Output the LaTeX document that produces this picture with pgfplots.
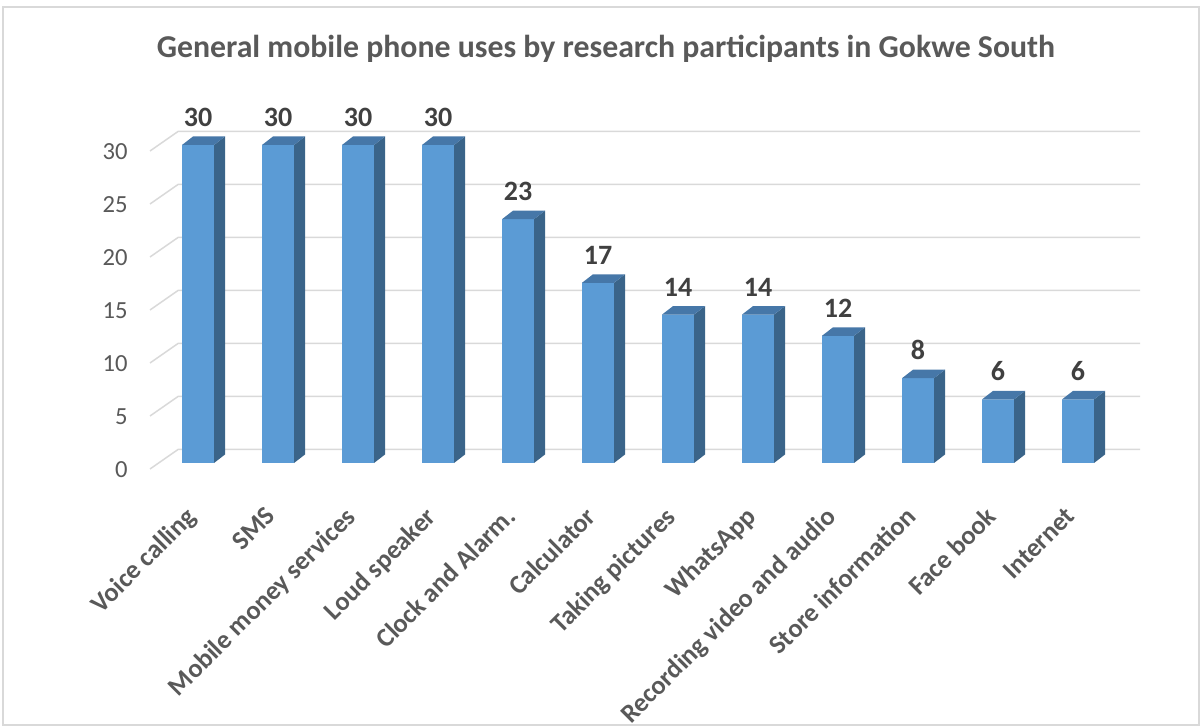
\documentclass[border=0pt]{standalone}
\usepackage{fontspec}
\setmainfont{Carlito}
\usepackage{pgfplots}
\pgfplotsset{compat=1.18}
\definecolor{barfront}{HTML}{5B9BD5}
\definecolor{bartop}{HTML}{4677A8}
\definecolor{barside}{HTML}{3A6489}
\definecolor{txt}{HTML}{595959}
\definecolor{lbl}{HTML}{404040}
\definecolor{grd}{HTML}{D9D9D9}
\definecolor{frame}{HTML}{D9D9D9}

\pgfdeclareplotmark{bar3d}{%
  \pgfmathsetmacro\barH{\rawy*5.3}%
  \pgfpathmoveto{\pgfpoint{8pt}{0pt}}%
  \pgfpathlineto{\pgfpoint{13.5pt}{4.25pt}}%
  \pgfpathlineto{\pgfpoint{13.5pt}{4.25pt-\barH pt}}%
  \pgfpathlineto{\pgfpoint{8pt}{-\barH pt}}%
  \pgfpathclose
  \pgfsetfillcolor{barside}%
  \pgfusepathqfill
  \pgfpathmoveto{\pgfpoint{-8pt}{0pt}}%
  \pgfpathlineto{\pgfpoint{8pt}{0pt}}%
  \pgfpathlineto{\pgfpoint{13.5pt}{4.25pt}}%
  \pgfpathlineto{\pgfpoint{-2.5pt}{4.25pt}}%
  \pgfpathclose
  \pgfsetfillcolor{bartop}%
  \pgfusepathqfill
}

\pgfplotstableread{
x y
0 30
1 30
2 30
3 30
4 23
5 17
6 14
7 14
8 12
9 8
10 6
11 6
}\usesdata

\begin{document}
\begin{tikzpicture}
\path[use as bounding box] (0,0) rectangle (601pt,363.5pt);
\draw[frame, line width=1pt] (1.5pt,1pt) rectangle (599.5pt,360pt);
\node[font=\bfseries\fontsize{15.9}{19}\selectfont, text=txt] at (303pt,339pt)
  {General mobile phone uses by research participants in Gokwe South};
\begin{axis}[
  at={(75pt,132pt)}, anchor=south west,
  scale only axis, width=482pt, height=159pt,
  xmin=-0.6, xmax=11.45, ymin=0, ymax=30,
  axis line style={draw=none},
  major tick length=0pt,
  ytick={0,5,...,30},
  xtick={0,...,11},
  xticklabels={Voice calling, SMS, Mobile money services, Loud speaker, Clock and Alarm., Calculator, Taking pictures, WhatsApp, Recording video and audio, Store information, Face book, Internet},
  /pgf/number format/assume math mode=true,
  yticklabel style={font=\fontsize{12.3}{14}\selectfont, text=txt, inner sep=0pt, xshift=-11pt, yshift=-3.5pt},
  xticklabel style={font=\bfseries\fontsize{13.2}{15}\selectfont, text=txt, inner sep=0pt, xshift=-7pt, yshift=-21pt, rotate=45, anchor=north east},
  clip=false,
]
\pgfplotsinvokeforeach{0,5,...,30}{
  \draw[grd, line width=0.75pt] ([yshift=-3pt]axis cs:-0.6,#1) -- ([xshift=14pt,yshift=6.75pt]axis cs:-0.6,#1) -- ([xshift=13pt,yshift=6.75pt]axis cs:11.45,#1);
}
\addplot[ybar, bar width=16pt, fill=barfront, draw=none,
  nodes near coords,
  nodes near coords style={font=\bfseries\fontsize{14}{16}\selectfont, text=lbl, anchor=south, inner sep=0pt, yshift=9pt}]
  table[x=x,y=y] {\usesdata};
\addplot[only marks, mark=bar3d, visualization depends on={rawy \as \rawy}]
  table[x=x,y=y] {\usesdata};
\end{axis}
\end{tikzpicture}
\end{document}
